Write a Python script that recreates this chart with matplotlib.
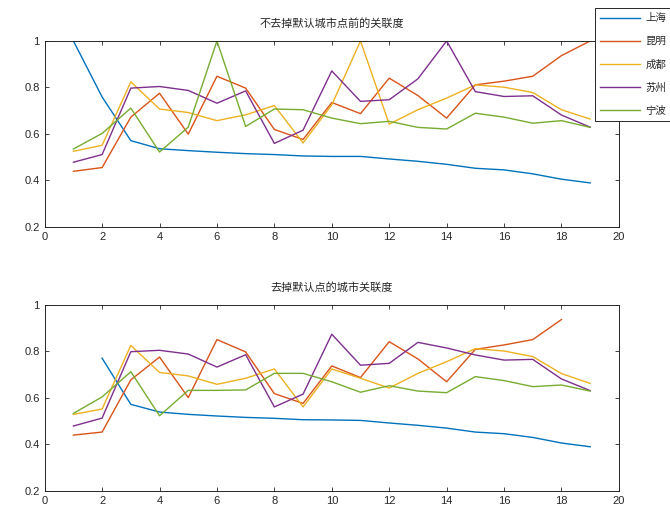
import matplotlib
matplotlib.use('Agg')
import matplotlib.pyplot as plt
import numpy as np

plt.rcParams['font.family'] = ['Liberation Sans', 'Noto Sans CJK SC']

cities = ['上海', '昆明', '成都', '苏州', '宁波']
colors = ['#0072bd', '#d95319', '#edb120', '#7e2f8e', '#77ac30']

x_top = np.arange(1, 20)
top_shanghai = [1.0, 0.759, 0.571, 0.536, 0.528, 0.521, 0.515, 0.511, 0.505, 0.503,
                0.503, 0.492, 0.482, 0.469, 0.452, 0.445, 0.428, 0.405, 0.389]
top_kunming = [0.439, 0.455, 0.672, 0.775, 0.599, 0.848, 0.797, 0.619, 0.576, 0.735,
               0.687, 0.840, 0.765, 0.668, 0.811, 0.827, 0.848, 0.937, 1.0]
top_chengdu = [0.525, 0.551, 0.824, 0.707, 0.692, 0.657, 0.682, 0.722, 0.561, 0.725,
               1.0, 0.642, 0.704, 0.754, 0.811, 0.801, 0.778, 0.704, 0.664]
top_suzhou = [0.478, 0.511, 0.797, 0.804, 0.787, 0.732, 0.785, 0.559, 0.616, 0.871,
              0.740, 0.747, 0.837, 1.0, 0.782, 0.761, 0.764, 0.681, 0.629]
top_ningbo = [0.535, 0.602, 0.711, 0.522, 0.629, 1.0, 0.632, 0.707, 0.704, 0.668,
              0.644, 0.654, 0.628, 0.621, 0.689, 0.672, 0.646, 0.657, 0.628]

x_shanghai_b = np.arange(2, 20)
bot_shanghai = [0.770, 0.572, 0.539, 0.529, 0.522, 0.516, 0.512, 0.506, 0.505,
                0.503, 0.492, 0.482, 0.470, 0.453, 0.446, 0.430, 0.406, 0.390]
x_kunming_b = np.arange(1, 19)
bot_kunming = [0.440, 0.453, 0.677, 0.775, 0.601, 0.850, 0.797, 0.618, 0.576, 0.737,
               0.687, 0.841, 0.767, 0.669, 0.808, 0.827, 0.850, 0.936]
x_bot = np.arange(1, 20)
bot_chengdu = [0.529, 0.552, 0.825, 0.709, 0.694, 0.658, 0.684, 0.724, 0.561, 0.724,
               0.684, 0.642, 0.705, 0.755, 0.811, 0.801, 0.777, 0.704, 0.662]
bot_suzhou = [0.479, 0.513, 0.798, 0.804, 0.788, 0.732, 0.785, 0.561, 0.616, 0.873,
              0.740, 0.748, 0.838, 0.814, 0.784, 0.762, 0.765, 0.681, 0.631]
bot_ningbo = [0.533, 0.604, 0.712, 0.523, 0.632, 0.632, 0.634, 0.705, 0.705, 0.669,
              0.624, 0.652, 0.629, 0.622, 0.691, 0.674, 0.648, 0.655, 0.629]

fig = plt.figure(figsize=(6.7, 5.12), dpi=100)
ax1 = fig.add_axes([0.0667, 0.557, 0.857, 0.363])
ax2 = fig.add_axes([0.0667, 0.041, 0.857, 0.364])

top_series = [(x_top, top_shanghai), (x_top, top_kunming), (x_top, top_chengdu),
              (x_top, top_suzhou), (x_top, top_ningbo)]
bot_series = [(x_shanghai_b, bot_shanghai), (x_kunming_b, bot_kunming), (x_bot, bot_chengdu),
              (x_bot, bot_suzhou), (x_bot, bot_ningbo)]

handles = []
for (xs, ys), c, name in zip(top_series, colors, cities):
    h, = ax1.plot(xs, ys, color=c, lw=1.0, label=name)
    handles.append(h)
for (xs, ys), c in zip(bot_series, colors):
    ax2.plot(xs, ys, color=c, lw=1.0)

for ax in (ax1, ax2):
    ax.set_xlim(0, 20)
    ax.set_ylim(0.2, 1.0)
    ax.set_xticks(np.arange(0, 21, 2))
    ax.set_yticks([0.2, 0.4, 0.6, 0.8, 1.0])
    ax.set_yticklabels(['0.2', '0.4', '0.6', '0.8', '1'])
    ax.tick_params(direction='in', top=True, right=True, length=3, width=0.6,
                   labelsize=8, labelcolor='#262626', color='#262626')
    for s in ax.spines.values():
        s.set_color('#262626')
        s.set_linewidth(0.7)

ax1.set_title('不去掉默认城市点前的关联度', fontsize=8, color='#262626', pad=10,
              family=['Noto Sans CJK SC'])
ax2.set_title('去掉默认点的城市关联度', fontsize=8, color='#262626', pad=10,
              family=['Noto Sans CJK SC'])

# legend sits in the top-right corner and runs off the figure edge
leg = fig.legend(handles=handles, loc='upper left', bbox_to_anchor=(595 / 670, 1 - 8 / 512),
                 prop={'family': 'Noto Sans CJK SC', 'size': 7.5}, fancybox=False,
                 edgecolor='#262626', framealpha=1, handlelength=3.85, labelspacing=1.26,
                 borderpad=0.5, handletextpad=0.5, borderaxespad=0)
leg.get_frame().set_linewidth(0.7)
for t in leg.get_texts():
    t.set_color('#262626')

fig.savefig('out.png', dpi=100)
